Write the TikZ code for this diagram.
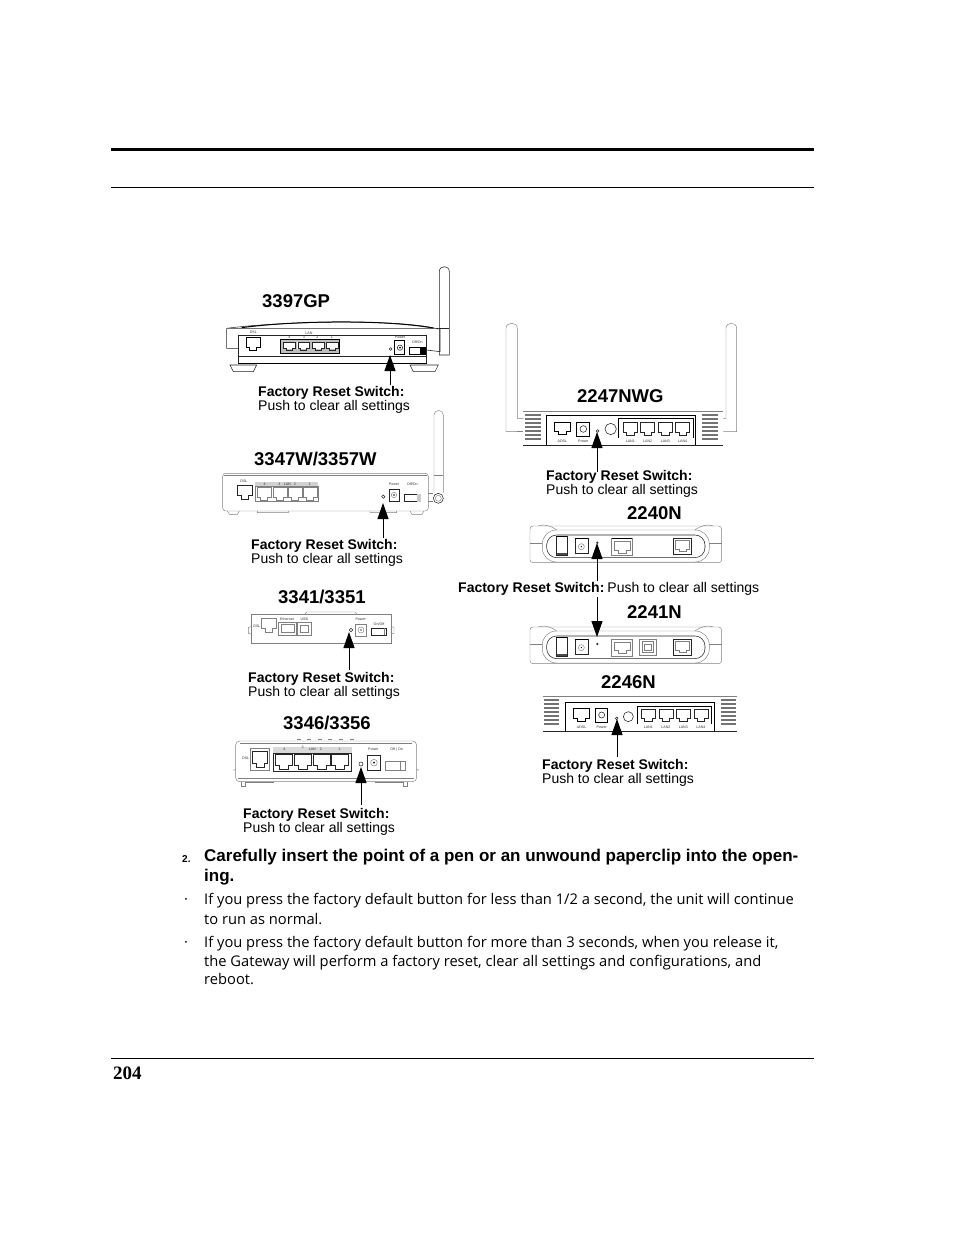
\documentclass[tikz,border=0pt]{standalone}
\usepackage{fontspec}
\setmainfont{Liberation Sans}
\newfontfamily\bodyfont{Open Sans}
\newfontfamily\pagefont{Liberation Serif}
\usetikzlibrary{arrows.meta}
\tikzset{
 x=1pt,y=-1pt,
 rulethin/.style={line width=1pt},
 rulethick/.style={line width=3pt},
 callout/.style={-{Triangle[length=16pt,width=11pt]},line width=1pt,shorten >=0pt},
 model/.style={anchor=base west,inner sep=0pt,font=\fontsize{18.5}{20}\selectfont\bfseries},
 fr/.style={anchor=base west,inner sep=0pt,font=\fontsize{14}{16}\selectfont\bfseries},
 fp/.style={anchor=base west,inner sep=0pt,font=\fontsize{14}{16}\selectfont},
 head/.style={anchor=base west,inner sep=0pt,font=\fontsize{17}{19}\selectfont\bfseries},
 bt/.style={anchor=base west,inner sep=0pt,font=\bodyfont\fontsize{14.7}{18}\selectfont},
 dev/.style={line width=.55pt,draw=black!85},
 devg/.style={line width=.45pt,draw=black!50},
 devk/.style={line width=1pt,draw=black},
 tiny/.style={inner sep=0pt,font=\fontsize{3.6}{4}\selectfont,text=black!80},
 zoomed/.style={x=.3333pt,y=-.3333pt},
}
\newcommand{\rj}[5][dev]{%
 \begin{scope}[shift={(#2,#3)}]
 \pgfmathsetmacro{\rjw}{#4-#2}\pgfmathsetmacro{\rjh}{#5-#3}
 \begin{scope}[xscale=\rjw,yscale=\rjh]
 \draw[#1] (.04,.08) -- (.96,.08) -- (.96,.68) -- (.74,.68) -- (.74,.88) -- (.26,.88) -- (.26,.68) -- (.04,.68) -- cycle;
 \end{scope}\end{scope}}
\newcommand{\stripes}[3]{\foreach \yy in {0,1,...,6}{\fill[black!55] (#1,{#3+\yy*12}) rectangle (#2,{#3+\yy*12+6});}}
\begin{document}
\begin{tikzpicture}
\useasboundingbox (0,0) rectangle (954,1235);
\fill[white] (0,0) rectangle (954,1235);
% page rules
\coordinate (r1a) at (111,149); \coordinate (r1b) at (814,149);
\coordinate (r2a) at (111,187.5); \coordinate (r2b) at (814,187.5);
\coordinate (r3a) at (111,1058); \coordinate (r3b) at (814,1058);
\draw[rulethick] (r1a) -- (r1b);
\draw[rulethin] (r2a) -- (r2b);
\draw[rulethin] (r3a) -- (r3b);

% 3397GP
\begin{scope}[shift={(210,260)},zoomed]
 \draw[dev,fill=white] (688,285) -- (688,35) .. controls (688,15) and (718,15) .. (718,35) -- (718,285) -- cycle;
 \draw[dev] (688,205) -- (718,205);
 \draw[dev] (50,205) -- (690,205) -- (690,275) -- (650,270) (50,205) -- (50,265) -- (85,265) (50,205) .. controls (200,185) and (560,175) .. (685,207);
 \draw[devk] (95,203) .. controls (250,182) and (520,178) .. (670,204);
 \draw[dev] (85,225) rectangle (650,290);
 \draw[dev] (85,290) -- (85,310) -- (650,310) -- (650,290);
 \draw[devk] (85,312) -- (650,312);
 \draw[dev] (60,315) -- (140,315) -- (130,335) -- (70,335) -- cycle;
 \draw[dev] (600,315) -- (685,315) -- (675,335) -- (610,335) -- cycle;
 \rj[devk]{108}{230}{152}{278}
 \draw[devk,fill=black!25] (212,240) rectangle (390,280);
 \foreach \xx in {218,262,305,347}{\fill[white] (\xx,247) rectangle (\xx+38,268);\rj{\xx}{243}{\xx+38}{276}}
 \node[tiny] at (130,218) {DSL};
 \node[tiny] at (297,220) {LAN};
 \node[tiny] at (238,231) {4}; \node[tiny] at (282,233) {3}; \node[tiny] at (322,231) {2}; \node[tiny] at (366,231) {1};
 \node[tiny] at (570,232) {Power};
 \node[tiny] at (622,247) {Off/On};
 \draw[dev] (542,267) circle (4);
 \draw[devk] (555,243) rectangle (585,285);
 \draw[dev] (570,263) circle (8);\fill (570,263) circle (3);
 \draw[devk,fill=white] (598,262) rectangle (648,285);
 \fill (630,262) rectangle (648,285);
\end{scope}
\coordinate (s1) at (390,385); \coordinate (h1) at (390,355);
\draw[callout] (s1) -- (h1);
\node[model] (m1) at (262,307) {3397GP};
\node[fr] (t1a) at (258,396) {Factory Reset Switch:};
\node[fp] (t1b) at (258,410) {Push to clear all settings};

% 3347W
\begin{scope}[shift={(210,405)},zoomed]
 \draw[devg] (672,262) -- (672,30) .. controls (672,12) and (700,12) .. (700,30) -- (700,262);
 \draw[devg] (672,210) -- (700,210);
 \draw[dev,fill=white] (685,280) circle (15); \draw[devg] (685,280) circle (9);
 \draw[devg,rounded corners=3pt] (38,205) rectangle (655,318);
 \draw[devg] (42,212) -- (650,212);
 \draw[devg] (655,265) -- (670,265) (655,290) -- (670,290);
 \draw[devg] (52,318) -- (58,328) -- (82,328) -- (88,318) (600,318) -- (606,328) -- (636,328) -- (642,318) (142,318) -- (142,323) -- (235,323) -- (235,318) (480,318) -- (480,323) -- (560,323) -- (560,318);
 \rj{80}{238}{128}{288}
 \fill[black!18] (135,232) rectangle (325,245);
 \draw[devg] (135,245) rectangle (325,290);
 \foreach \xx in {140,188,233,278}{\rj[devg]{\xx}{243}{\xx+44}{291}}
 \node[tiny] at (102,228) {DSL};
 \node[tiny] at (164,237) {4}; \node[tiny] at (208,237) {3}; \node[tiny] at (232,237) {LAN}; \node[tiny] at (255,237) {2}; \node[tiny] at (300,237) {1};
 \node[tiny] at (552,237) {Power};
 \node[tiny] at (607,237) {Off/On};
 \draw[dev] (520,275) circle (5);
 \draw[dev] (537,253) rectangle (567,290); \draw[devg] (552,270) circle (8); \fill (552,270) circle (2.5);
 \draw[dev] (582,268) rectangle (632,290); \fill[black!20] (622,268) rectangle (632,290);
\end{scope}
\coordinate (s2) at (383,538); \coordinate (h2) at (383,503);
\draw[callout] (s2) -- (h2);
\node[model] (m2) at (254,465) {3347W/3357W};
\node[fr] (t2a) at (251,549) {Factory Reset Switch:};
\node[fp] (t2b) at (251,563) {Push to clear all settings};

% 3341 and 3346
\begin{scope}[shift={(225,590)},zoomed]
 \draw[devg] (78,72) rectangle (498,160);
 \draw[devg] (78,110) -- (70,112) -- (70,130) -- (78,132) (498,110) -- (507,112) -- (507,130) -- (498,132);
 \draw[devg] (240,72) -- (245,66) -- (390,66) -- (395,72);
 \rj[devg]{108}{82}{155}{132}
 \draw[devg] (160,97) rectangle (215,135); \draw[devg] (168,103) rectangle (207,128);
 \draw[devg] (218,97) rectangle (258,135); \draw[devg] (226,105) -- (250,105) -- (250,128) -- (226,128) -- cycle;
 \node[tiny] at (96,108) {DSL};
 \node[tiny] at (186,87) {Ethernet};
 \node[tiny] at (238,87) {USB};
 \node[tiny] at (407,88) {Power};
 \node[tiny] at (462,102) {On/Off};
 \draw[dev] (378,120) circle (5);
 \draw[devg] (392,102) rectangle (425,138); \draw[devg] (408,120) circle (9);\fill[black!70] (408,120) circle (2.5);
 \draw[dev] (440,115) rectangle (485,135); \draw[devg] (478,115) -- (478,135);

 \foreach \xx in {215,245,280,310,342,375}{\draw[devg] (\xx,449) -- (\xx+12,449);}
 \draw[devg,rounded corners=4pt] (32,575) -- (32,453) -- (575,453) -- (575,575) -- cycle;
 \draw[devg] (32,538) -- (25,541) (575,538) -- (582,541);
 \draw[devg] (45,460) -- (562,460) (40,565) -- (568,565);
 \draw[devg] (50,575) -- (50,590) -- (60,590) -- (60,578) -- (148,578) (450,578) -- (535,578) -- (535,590) -- (548,590) -- (548,575);
 \draw[devg] (77,475) rectangle (132,540);
 \rj{80}{478}{130}{538}
 \fill[black!15] (145,470) rectangle (380,490);
 \draw[dev] (145,490) rectangle (380,545);
 \foreach \xx in {150,207,262,318}{\rj{\xx}{490}{\xx+55}{544}}
 \node[tiny] at (62,505) {DSL};
 \node[tiny] at (178,478) {4}; \node[tiny] at (233,472) {3}; \node[tiny] at (262,478) {LAN}; \node[tiny] at (288,478) {2}; \node[tiny] at (344,478) {1};
 \node[tiny] at (445,478) {Power};
 \node[tiny] at (515,478) {Off | On};
 \draw[dev] (408,522) circle (6);
 \draw[dev] (428,497) rectangle (465,540); \draw[devg] (447,518) circle (10);\fill (447,518) circle (3);
 \draw[devg] (482,515) rectangle (542,540); \draw[devg] (525,515) -- (525,540);
\end{scope}
\coordinate (s3) at (349,670); \coordinate (h3) at (349,632);
\draw[callout] (s3) -- (h3);
\node[model] (m3) at (278,603) {3341/3351};
\node[fr] (t3a) at (248,682) {Factory Reset Switch:};
\node[fp] (t3b) at (248,696) {Push to clear all settings};
\coordinate (s4) at (361,805); \coordinate (h4) at (361,767);
\draw[callout] (s4) -- (h4);
\node[model] (m4) at (283,729) {3346/3356};
\node[fr] (t4a) at (243,818) {Factory Reset Switch:};
\node[fp] (t4b) at (243,832) {Push to clear all settings};

% 2247NWG
\begin{scope}[shift={(490,315)},zoomed]
 \draw[devg] (82,350) -- (48,350) -- (48,40) .. controls (48,20) and (82,20) .. (82,40) -- (82,310) -- (100,310);
 \draw[devg] (700,310) -- (708,310) -- (708,40) .. controls (708,20) and (740,20) .. (740,40) -- (740,350) -- (700,350);
 \draw[devg] (82,350) -- (100,350);
 \draw[devg] (100,290) -- (700,290);
 \draw[dev] (100,390) -- (700,390);
 \stripes{105}{152}{296}
 \stripes{637}{685}{296}
 \draw[devk] (170,390) -- (170,302) -- (618,302) -- (618,390);
 \rj[devk]{190}{318}{245}{365}
 \node[tiny] at (217,378) {ADSL};
 \draw[devk] (260,322) -- (260,365) -- (300,365) -- (300,322) -- cycle; \draw[dev] (280,342) circle (10);
 \node[tiny] at (280,378) {Power};
 \draw[dev] (323,348) circle (4);
 \draw[dev] (362,342) circle (17);
 \draw[devk] (385,368) -- (385,312) -- (612,312) -- (612,368);
 \foreach \xx/\ll in {398/LAN1,450/LAN2,503/LAN3,555/LAN4}{\rj{\xx}{318}{\xx+46}{366}\node[tiny] at (\xx+23,378) {\ll};}
\end{scope}
\coordinate (s5) at (597,472); \coordinate (h5) at (597,432);
\draw[callout] (s5) -- (h5);
\node[model] (m5) at (577,402) {2247NWG};
\node[fr] (t5a) at (546,480) {Factory Reset Switch:};
\node[fp] (t5b) at (546,494) {Push to clear all settings};

% 2240N and 2241N
\begin{scope}[shift={(510,520)},zoomed]
 \foreach \dy in {0,303}{
 \begin{scope}[yshift=-\dy*.3333pt]
 \draw[devg,rounded corners=3pt] (60,18) rectangle (635,128);
 \draw[devg] (60,70) -- (97,70) (598,70) -- (635,70);
 \draw[devg] (85,18) .. controls (100,12) and (120,15) .. (140,30) (610,18) .. controls (595,12) and (575,15) .. (555,30);
 \draw[dev,rounded corners=10pt] (110,45) rectangle (585,113);
 \draw[devg,rounded corners=14pt] (97,30) rectangle (598,126);
 \draw[dev,fill=white] (138,50) rectangle (172,106);
 \draw[devk] (138,50) -- (172,50);
 \fill[black!70] (140,100) rectangle (170,106);
 \draw[dev] (195,56) rectangle (235,100); \draw[devg] (214,80) circle (9); \fill (214,80) circle (2);
 \draw[devk] (195,56) -- (235,56);
 \draw[dev] (490,56) rectangle (545,102);
 \rj[devg]{495}{58}{540}{100}
 \end{scope}}
 \draw[devg] (305,55) rectangle (367,107); \rj[devg]{310}{60}{362}{105}
 \draw[devk] (305,55) -- (367,55);
 \draw[dev] (262,68) circle (2.5);
 \draw[devg] (305,358) rectangle (367,408); \rj[devg]{310}{362}{362}{406}
 \draw[devg] (388,358) rectangle (440,405); \draw[devg] (398,365) rectangle (430,398); \draw[devg] (403,372) rectangle (425,392);
 \draw[dev] (262,372) circle (2.5);
\end{scope}
\coordinate (s6) at (597,581); \coordinate (h6) at (597,543);
\coordinate (s7) at (597,597); \coordinate (h7) at (597,637);
\draw[callout] (s6) -- (h6);
\draw[callout] (s7) -- (h7);
\node[model] (m6) at (627,519) {2240N};
\node[fr] (t6a) at (458,592) {Factory Reset Switch:\kern3pt\normalfont Push to clear all settings};
\node[model] (m7) at (627,618) {2241N};

% 2246N
\begin{scope}[shift={(530,690)},zoomed]
 \draw[devg] (40,20) -- (620,20);
 \draw[dev] (40,125) -- (620,125);
 \stripes{42}{88}{28}
 \stripes{573}{618}{28}
 \draw[devk] (105,125) -- (105,38) -- (555,38) -- (555,125);
 \rj[devk]{128}{52}{180}{100}
 \node[tiny] at (155,112) {ADSL};
 \draw[devk] (198,55) rectangle (232,98); \draw[dev] (215,75) circle (9);
 \node[tiny] at (215,112) {Power};
 \draw[dev] (260,85) circle (4);
 \draw[dev] (295,80) circle (15);
 \draw[devk] (322,103) -- (322,48) -- (545,48) -- (545,103);
 \foreach \xx/\ll in {332/LAN1,385/LAN2,437/LAN3,490/LAN4}{\rj{\xx}{53}{\xx+46}{101}\node[tiny] at (\xx+23,112) {\ll};}
\end{scope}
\coordinate (s8) at (617,757); \coordinate (h8) at (617,719);
\draw[callout] (s8) -- (h8);
\node[model] (m8) at (601,688) {2246N};
\node[fr] (t8a) at (542,769) {Factory Reset Switch:};
\node[fp] (t8b) at (542,783) {Push to clear all settings};

% body text
\node[anchor=base west,inner sep=0pt,font=\fontsize{10}{12}\selectfont\bfseries] (n2) at (182,862) {2.};
\node[head] (h1x) at (204,861) {Carefully insert the point of a pen or an unwound paperclip into the open-};
\node[head] (h2x) at (204,881) {ing.};
\node[bt] (b0) at (184,904) {·};
\node[bt] (b1) at (204,904) {If you press the factory default button for less than 1/2 a second, the unit will continue};
\node[bt] (b2) at (204,924) {to run as normal.};
\node[bt] (b00) at (184,947) {·};
\node[bt] (b3) at (204,947) {If you press the factory default button for more than 3 seconds, when you release it,};
\node[bt] (b4) at (204,966) {the Gateway will perform a factory reset, clear all settings and configurations, and};
\node[bt] (b5) at (204,984) {reboot.};
\node[anchor=base west,inner sep=0pt,font=\pagefont\fontsize{19}{21}\selectfont\bfseries] (pg) at (113,1079) {204};
\end{tikzpicture}
\end{document}
